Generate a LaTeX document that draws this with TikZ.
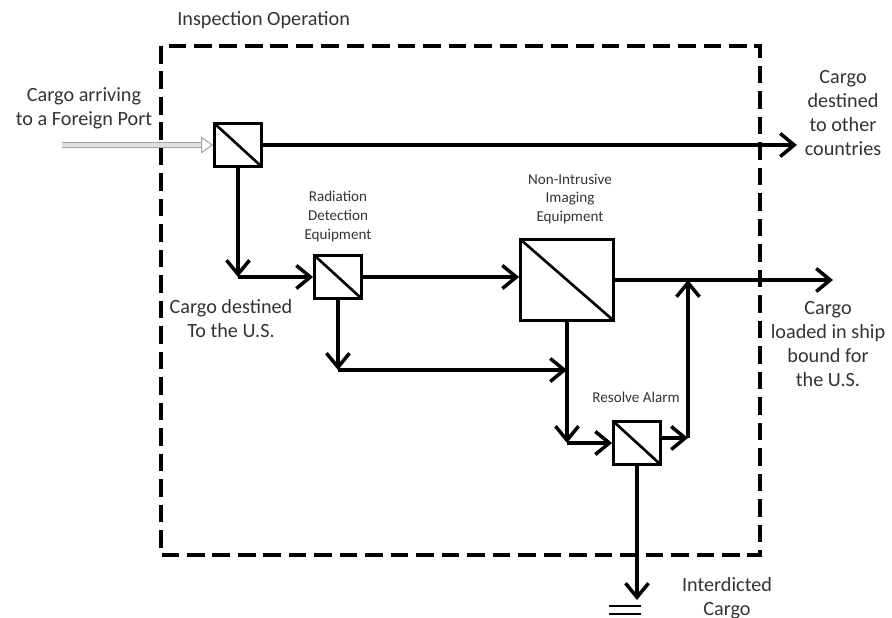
\documentclass[tikz,border=0pt]{standalone}
\usepackage{fontspec}
\setmainfont{Carlito}
\usetikzlibrary{arrows.meta}
\definecolor{txtgray}{HTML}{333333}

\begin{document}
\begin{tikzpicture}[
  x=0.02cm, y=-0.02cm,
  lbl/.style={text=txtgray, align=center, font=\fontsize{11.5}{13.6}\selectfont, inner sep=0pt},
  smalllbl/.style={text=txtgray, align=center, font=\fontsize{8.6}{10.8}\selectfont, inner sep=0pt},
  splitter/.style={draw, line width=1.6pt, fill=white, minimum width=0.94cm, minimum height=0.86cm, inner sep=0pt,
    path picture={\draw[line width=1.5pt] (path picture bounding box.north west) -- (path picture bounding box.south east);}},
  flow/.style={line width=2pt, -{Straight Barb[length=2.8mm, width=4.6mm, line width=2pt]}}
]
\useasboundingbox (0,0) rectangle (892,618);

% inspection area
\draw[line width=2pt, dash pattern=on 10pt off 4.5pt] (161,46) rectangle (760,555);
\node[lbl, anchor=west] (title) at (177,20) {Inspection Operation};

% equipment
\node[splitter] (b1) at (238,145) {};
\node[splitter] (b2) at (338,277) {};
\node[splitter, minimum width=1.86cm, minimum height=1.62cm] (b3) at (567,280) {};
\node[splitter] (b4) at (637,443) {};

\node[smalllbl] (l2) at (338,216) {Radiation\\Detection\\Equipment};
\node[smalllbl] (l3) at (570,199) {Non-Intrusive\\Imaging\\Equipment};
\node[smalllbl] (l4) at (636,397) {Resolve Alarm};

% outside labels
\node[lbl] (src) at (84,108) {Cargo arriving\\to a Foreign Port};
\node[lbl] (other) at (843,113) {Cargo\\destined\\to other\\countries};
\node[lbl] (us) at (231,319) {Cargo destined\\To the U.S.};
\node[lbl] (ship) at (828,344) {Cargo\\loaded in ship\\bound for\\the U.S.};
\node[lbl] (intd) at (727,598) {Interdicted\\Cargo};

% free ends and corners
\coordinate (in) at (62,145);
\coordinate (out1) at (797,145);
\coordinate (out2) at (833,280);
\coordinate (c1) at (b1.south |- b2.west);
\coordinate (c2) at (338,370);
\coordinate (c3) at (b3.south |- b4.west);
\coordinate (c4) at (688,438);
\coordinate (gnd) at (637,600);

% connectors
\draw[gray!70, line width=0.6pt, double=gray!25, double distance=2pt, -{Triangle[open, length=2.4mm, width=3.4mm]}] (in) -- (b1.west);
\draw[flow] (b1.east) -- (out1);
\draw[flow] (b1.south) -- (c1);
\draw[flow] (c1) -- (b2.west);
\draw[flow] (b2.east) -- (b3.west |- b2.east);
\draw[flow] (b3.east) -- (out2);
\draw[flow] (b2.south) -- (c2);
\draw[flow] (c2) -- (b3.south |- c2);
\draw[flow] (b3.south) -- (c3);
\draw[flow] (c3) -- (b4.west);
\draw[flow] (b4.east |- c4) -- (c4);
\draw[flow] (c4) -- (c4 |- out2);
\draw[flow] (b4.south) -- (gnd);

% ground
\draw[line width=1.6pt] ([xshift=-16]gnd) ++(0,6) -- ++(32,0);
\draw[line width=1.6pt] ([xshift=-16]gnd) ++(0,14) -- ++(32,0);
\end{tikzpicture}
\end{document}
